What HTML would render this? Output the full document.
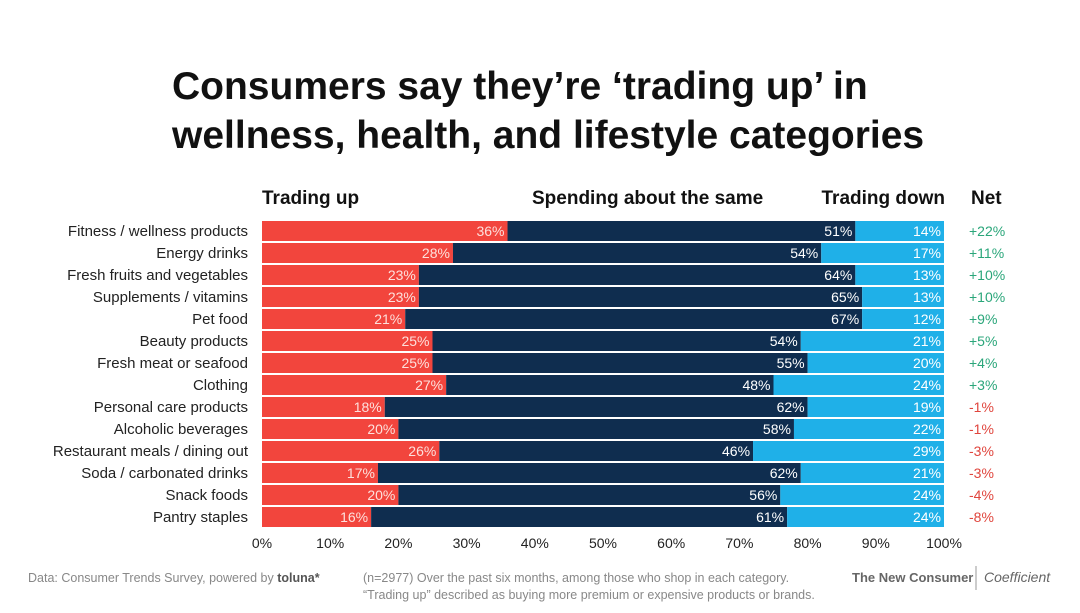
<!DOCTYPE html>
<html><head><meta charset="utf-8"><style>
body{margin:0;background:#fff;width:1080px;height:608px;overflow:hidden;font-family:"Liberation Sans",sans-serif;}
svg text{font-family:"Liberation Sans",sans-serif;}
</style></head><body>
<svg id="chart" width="1080" height="608">
<text x="172" y="99" font-size="39" font-weight="bold" fill="#111">Consumers say they’re ‘trading up’ in</text>
<text x="172" y="148" font-size="39" font-weight="bold" fill="#111">wellness, health, and lifestyle categories</text>
<text x="262" y="204" font-size="19" font-weight="bold" fill="#111">Trading up</text>
<text x="532" y="204" font-size="19" font-weight="bold" fill="#111">Spending about the same</text>
<text x="945" y="204" font-size="19" font-weight="bold" fill="#111" text-anchor="end">Trading down</text>
<text x="971" y="204" font-size="19" font-weight="bold" fill="#111">Net</text>
<g id="bars"></g>
<g id="axis"></g>
<text x="28" y="582" font-size="12.5" fill="#888">Data: Consumer Trends Survey, powered by <tspan fill="#555" font-weight="bold">toluna*</tspan></text>
<text x="363" y="582" font-size="12.5" fill="#888">(n=2977) Over the past six months, among those who shop in each category.</text>
<text x="363" y="599" font-size="12.5" fill="#888">“Trading up” described as buying more premium or expensive products or brands.</text>
<text x="852" y="582" font-size="13" font-weight="bold" fill="#666">The New Consumer</text>
<line x1="976" y1="566" x2="976" y2="590" stroke="#999"/>
<text x="984" y="582" font-size="14" font-style="italic" fill="#666" font-family="Liberation Serif">Coefficient</text>
</svg>
<script>
const categories=["Fitness / wellness products","Energy drinks","Fresh fruits and vegetables","Supplements / vitamins","Pet food","Beauty products","Fresh meat or seafood","Clothing","Personal care products","Alcoholic beverages","Restaurant meals / dining out","Soda / carbonated drinks","Snack foods","Pantry staples"];
const tradingUp=[36,28,23,23,21,25,25,27,18,20,26,17,20,16];
const same=[51,54,64,65,67,54,55,48,62,58,46,62,56,61];
const tradingDown=[14,17,13,13,12,21,20,24,19,22,29,21,24,24];
const net=["+22%","+11%","+10%","+10%","+9%","+5%","+4%","+3%","-1%","-1%","-3%","-3%","-4%","-8%"];
const ticks=[0,10,20,30,40,50,60,70,80,90,100];
const NS="http://www.w3.org/2000/svg";
const x=v=>262+v*6.82;
const rowY=i=>221+i*22;
const g=document.getElementById('bars'),ax=document.getElementById('axis');
function mk(tag,attrs,parent,txt){const e=document.createElementNS(NS,tag);for(const k in attrs)e.setAttribute(k,attrs[k]);if(txt!=null)e.textContent=txt;parent.appendChild(e);return e;}
categories.forEach((c,i)=>{
 const y=rowY(i),u=tradingUp[i],s=same[i];
 let t=mk('text',{x:248,y:y+15,'font-size':15,fill:'#222','text-anchor':'end'},g,c);
 
 
 let r=mk('rect',{x:x(0),y:y,width:x(u)-x(0),height:20,fill:'#f2453d'},g);
 
 
 let r2=mk('rect',{x:x(u),y:y,width:x(u+s)-x(u),height:20,fill:'#0f2d4f'},g);
 
 
 let r3=mk('rect',{x:x(u+s),y:y,width:x(100)-x(u+s),height:20,fill:'#1fb0e8'},g);
 
 
 let l1=mk('text',{x:x(u)-3,y:y+15,'font-size':14,fill:'#fde0dc','text-anchor':'end'},g,u+'%');
 
 
 let l2=mk('text',{x:x(u+s)-3,y:y+15,'font-size':14,fill:'#fff','text-anchor':'end'},g,s+'%');
 
 
 let l3=mk('text',{x:x(100)-3,y:y+15,'font-size':14,fill:'#fff','text-anchor':'end'},g,tradingDown[i]+'%');
 
 
 let n=mk('text',{x:969,y:y+15,'font-size':14,fill:net[i][0]=='+'?'#2aa67a':'#e0453d'},g,net[i]);
 
 
});
ticks.forEach(v=>{
 let t=mk('text',{x:x(v),y:548,'font-size':14,fill:'#222','text-anchor':'middle'},ax,v+'%');
 
 
});
</script>
</body></html>
